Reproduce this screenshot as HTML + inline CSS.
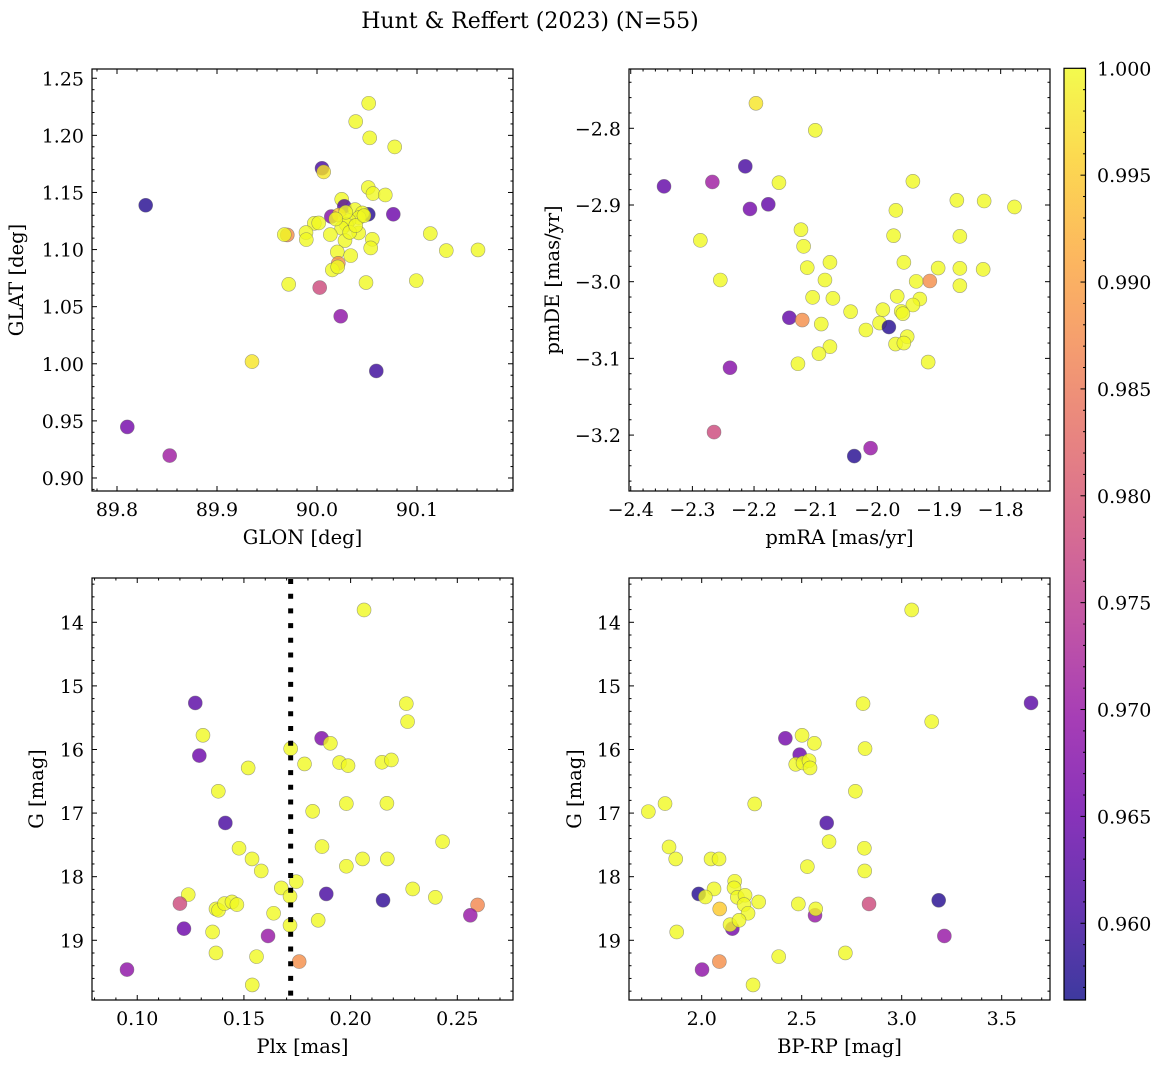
<!DOCTYPE html>
<html><head><meta charset="utf-8"><title>Hunt & Reffert (2023)</title>
<style>
html,body{margin:0;padding:0;background:#fff;}
svg{display:block;font-family:"DejaVu Serif","Liberation Serif",serif;}
</style></head>
<body>
<svg id="fig" width="1161" height="1068" viewBox="0 0 1161 1068" xmlns="http://www.w3.org/2000/svg">
<defs>
<linearGradient id="cbgrad" x1="0" y1="1" x2="0" y2="0"></linearGradient>
</defs>
<rect x="0" y="0" width="1161" height="1068" fill="#fff"/>
<text x="530" y="28" text-anchor="middle" font-size="22" fill="#000">Hunt &amp; Reffert (2023) (N=55)</text>
</svg>
<script>
// ---------------- data ----------------
const tlGlon = [90.0517,90.0387,90.0527,90.0777,90.0050,90.0067,90.0513,90.0560,90.0683,89.8287,90.0247,90.0273,90.0380,90.0763,90.0143,90.0220,90.0513,90.0453,90.0420,90.0320,89.9973,90.0017,90.0293,90.0247,89.9703,89.9673,89.9890,89.9893,90.0133,90.0417,90.0280,90.0553,90.0537,90.1133,90.1293,90.1610,90.0203,90.0337,90.0213,90.0153,90.0207,89.9717,90.0027,90.0490,90.0993,90.0237,89.9350,90.0593,89.8103,89.8527,90.0327,90.0387,90.0470,90.0287,90.0187];
const tlGlat = [1.2281,1.2121,1.1978,1.1899,1.1712,1.1680,1.1543,1.1490,1.1478,1.1388,1.1440,1.1379,1.1350,1.1309,1.1289,1.1303,1.1309,1.1321,1.1280,1.1254,1.1230,1.1233,1.1219,1.1187,1.1128,1.1131,1.1149,1.1087,1.1131,1.1146,1.1079,1.1090,1.1014,1.1140,1.0991,1.0997,1.0979,1.0947,1.0880,1.0822,1.0848,1.0696,1.0667,1.0711,1.0728,1.0416,1.0019,0.9937,0.9447,0.9196,1.1151,1.1210,1.1297,1.1327,1.1268];
const tlProb = [1,1,1,1,0.961,0.998,1,1,1,0.958,1,0.962,1,0.965,0.968,0.995,0.958,1,1,1,1,1,1,1,0.988,1,1,1,1,1,1,1,1,1,1,1,1,1,0.988,1,1,1,0.978,1,1,0.969,0.998,0.960,0.966,0.971,1,1,1,1,1];

const trPmra = [-2.1969,-2.1007,-2.2142,-2.3460,-2.2676,-2.1596,-2.2066,-2.1769,-1.9424,-1.8711,-1.8268,-1.7776,-1.9700,-2.2871,-2.1239,-2.1196,-1.9737,-1.8662,-2.2547,-2.1137,-2.0769,-2.0850,-1.9570,-1.9014,-1.8662,-1.8284,-1.9370,-1.9149,-1.8662,-2.1050,-2.0721,-1.9678,-1.9311,-1.9424,-2.0434,-1.9911,-1.9613,-1.9586,-2.1428,-2.1218,-2.0910,-1.9964,-1.9813,-2.0186,-1.9516,-1.9705,-1.9570,-2.0769,-2.0948,-2.1288,-1.9176,-2.2390,-2.2649,-2.0375,-2.0110];
const trPmde = [-2.7674,-2.8026,-2.8496,-2.8757,-2.8700,-2.8709,-2.9052,-2.8991,-2.8691,-2.8939,-2.8948,-2.9026,-2.9070,-2.9461,-2.9322,-2.9539,-2.9400,-2.9409,-2.9978,-2.9817,-2.9748,-2.9978,-2.9748,-2.9822,-2.9826,-2.9839,-2.9996,-2.9991,-3.0052,-3.0204,-3.0217,-3.0191,-3.0226,-3.0304,-3.0391,-3.0365,-3.0387,-3.0417,-3.0470,-3.0500,-3.0552,-3.0539,-3.0591,-3.0630,-3.0717,-3.0813,-3.0800,-3.0848,-3.0939,-3.1070,-3.1048,-3.1122,-3.1961,-3.2274,-3.2170];
const trProb = [0.998,1,0.961,0.964,0.971,1,0.966,0.964,1,1,1,1,1,1,1,1,1,1,1,1,1,1,1,1,1,1,1,0.988,1,1,1,1,1,1,1,1,1,1,0.964,0.988,1,1,0.958,1,1,1,1,1,1,1,1,0.968,0.978,0.958,0.970];

const blPlx = [0.2063,0.1272,0.2261,0.2267,0.1308,0.1864,0.1905,0.1291,0.1719,0.1520,0.1784,0.1948,0.1988,0.2147,0.2191,0.1380,0.1980,0.2170,0.1822,0.1413,0.2431,0.1477,0.1866,0.1538,0.2056,0.2172,0.1581,0.1980,0.1745,0.1675,0.1886,0.1716,0.1239,0.2291,0.2152,0.2397,0.1200,0.2595,0.2561,0.1369,0.1381,0.1409,0.1444,0.1467,0.1639,0.1848,0.1716,0.1219,0.1353,0.1613,0.1369,0.1559,0.1759,0.0952,0.1539];
const blG = [13.806,15.268,15.279,15.562,15.777,15.824,15.903,16.096,15.986,16.290,16.227,16.206,16.254,16.201,16.165,16.657,16.851,16.846,16.972,17.155,17.449,17.553,17.527,17.721,17.721,17.721,17.910,17.836,18.078,18.177,18.271,18.308,18.282,18.193,18.371,18.324,18.423,18.444,18.607,18.507,18.528,18.423,18.397,18.439,18.575,18.686,18.764,18.817,18.869,18.932,19.199,19.257,19.335,19.461,19.702];
const blProb = [1,0.963,1,1,1,0.967,1,0.965,1,1,1,1,1,1,1,1,1,1,1,0.961,1,1,1,1,1,1,1,1,1,1,0.961,1,1,1,0.959,1,0.978,0.987,0.970,1,1,1,1,1,1,1,1,0.965,1,0.970,1,1,0.988,0.969,1];

const brBprp = [3.0500,2.8067,3.6467,3.1500,2.4183,2.5017,2.5633,2.8167,2.4900,2.4700,2.5067,2.5367,2.5417,2.7683,1.7333,1.8167,2.2650,2.6250,2.6367,2.8133,1.8367,1.8700,2.0467,2.0867,2.5283,2.8150,2.1650,2.1617,2.0617,1.9850,2.0183,2.1783,2.2167,2.2117,2.2850,2.0900,2.2317,2.4833,2.5667,2.5700,2.8367,3.1850,2.1533,2.1417,2.1867,1.8750,3.2133,2.3850,2.7183,2.0017,2.0883,2.2567];
const brG = [13.806,15.279,15.268,15.562,15.824,15.777,15.903,15.986,16.081,16.233,16.212,16.175,16.290,16.657,16.977,16.851,16.856,17.155,17.449,17.553,17.533,17.721,17.721,17.721,17.842,17.910,18.072,18.177,18.193,18.271,18.319,18.324,18.292,18.439,18.397,18.507,18.575,18.429,18.607,18.507,18.429,18.371,18.817,18.754,18.686,18.869,18.932,19.257,19.199,19.461,19.335,19.702];
const brProb = [1,1,0.963,1,0.966,1,1,1,0.965,1,1,1,1,1,1,1,1,0.961,1,1,1,1,1,1,1,1,1,1,1,0.958,1,1,1,1,1,0.995,1,1,0.970,1,0.978,0.958,0.966,1,1,1,0.970,1,1,0.969,0.988,1];

const plxCut = [0.1719];
const cbTicks = [0.960,0.965,0.970,0.975,0.980,0.985,0.990,0.995,1.000];
const cbRange = [0.95641,1.0];

// ---------------- helpers ----------------
const NS = "http://www.w3.org/2000/svg";
const svg = document.getElementById('fig');
function mk(tag, attrs, parent){ const e=document.createElementNS(NS,tag); for(const k in attrs) e.setAttribute(k,attrs[k]); (parent||svg).appendChild(e); return e; }
const plasma = [[13,8,135],[65,4,157],[106,0,168],[143,13,164],[177,42,144],[204,71,120],[225,100,98],[242,132,75],[252,166,54],[252,206,37],[240,249,33]];
function plasmaAt(t){ t=Math.max(0,Math.min(1,t)); const f=t*10, i=Math.min(9,Math.floor(f)), r=f-i; const a=plasma[i], b=plasma[i+1]; return 'rgb('+a.map((v,k)=>Math.round(v+(b[k]-v)*r)).join(',')+')'; }
function probColor(p){ return plasmaAt((p-cbRange[0])/(cbRange[1]-cbRange[0])); }
function lin(d0,d1,r0,r1){ return v => r0 + (v-d0)/(d1-d0)*(r1-r0); }
function fmt(v,dec){ return (v<0?'\u2212':'') + Math.abs(v).toFixed(dec); }

function panel(cfg){
  const g = mk('g',{});
  
  
  const X = lin(cfg.xd[0],cfg.xd[1],cfg.px[0],cfg.px[1]);
  const Y = lin(cfg.yd[0],cfg.yd[1],cfg.py[1],cfg.py[0]);
  const [L,R]=cfg.px, [T,B]=cfg.py;
  const pg = mk('g',{},g);
  
  
  for(let i=0;i<cfg.xs.length;i++){
    const c = mk('circle',{cx:X(cfg.xs[i]).toFixed(2),cy:Y(cfg.ys[i]).toFixed(2),r:7,fill:probColor(cfg.ps[i]),'fill-opacity':0.8,stroke:'#666','stroke-opacity':0.6,'stroke-width':0.6},pg);
    
    
  }
  if(cfg.vline){
    const ln = mk('line',{x1:X(cfg.vline[0]),x2:X(cfg.vline[0]),y1:T+1,y2:B,stroke:'#000','stroke-width':5,'stroke-dasharray':'5 9.7'},g);
    
    
  }
  const tg = mk('g',{stroke:'#000','stroke-width':1},g);
  
  
  const eps=1e-9;
  function ticksAlong(d, step, minor, fn){
    const start=Math.ceil((d[0]-eps)/minor)*minor;
    for(let v=start; v<=d[1]+eps; v+=minor){
      const isMaj = Math.abs(v/step - Math.round(v/step))<1e-4;
      fn(v,isMaj);
    }
  }
  ticksAlong(cfg.xd, cfg.xstep, cfg.xminor, (v,maj)=>{
    const x=X(v), l=maj?5:2.5;
    mk('line',{x1:x,x2:x,y1:B,y2:B-l},tg); mk('line',{x1:x,x2:x,y1:T,y2:T+l},tg);
  });
  ticksAlong([Math.min(...cfg.yd),Math.max(...cfg.yd)], cfg.ystep, cfg.yminor, (v,maj)=>{
    const y=Y(v), l=maj?5:2.5;
    mk('line',{x1:L,x2:L+l,y1:y,y2:y},tg); mk('line',{x1:R,x2:R-l,y1:y,y2:y},tg);
  });
  const lg = mk('g',{'font-size':19,fill:'#000'},g);
  
  
  cfg.xticks.forEach(v=>{ const t=mk('text',{x:X(v),y:B+25,'text-anchor':'middle'},lg); t.textContent=fmt(v,cfg.xdec);
      });
  cfg.yticks.forEach(v=>{ const t=mk('text',{x:L-8,y:Y(v)+7,'text-anchor':'end'},lg); t.textContent=fmt(v,cfg.ydec);
      });
  const fr = mk('rect',{x:L,y:T,width:R-L,height:B-T,fill:'none',stroke:'#000','stroke-width':1.2},g);
  
  
  const xl = mk('text',{x:(L+R)/2,y:B+53,'text-anchor':'middle','font-size':19.5},g); xl.textContent=cfg.xlabel;
   
  const yl = mk('text',{x:0,y:0,'text-anchor':'middle','font-size':19.5,transform:'translate('+(cfg.ylx+6)+','+((T+B)/2)+') rotate(-90)'},g); yl.textContent=cfg.ylabel;
   
}

panel({name:'glon-glat-panel',px:[92,513],py:[69,491],xd:[89.775,90.196],yd:[0.8886,1.2581],xs:tlGlon,ys:tlGlat,ps:tlProb,
  xstep:0.1,xminor:0.02,ystep:0.05,yminor:0.01,xticks:[89.8,89.9,90.0,90.1],yticks:[0.90,0.95,1.00,1.05,1.10,1.15,1.20,1.25],xdec:1,ydec:2,
  xlabel:'GLON [deg]',ylabel:'GLAT [deg]',ylx:17});
panel({name:'pm-panel',px:[629,1050],py:[69,491],xd:[-2.4028,-1.720],yd:[-3.2729,-2.7227],xs:trPmra,ys:trPmde,ps:trProb,
  xstep:0.1,xminor:0.02,ystep:0.1,yminor:0.02,xticks:[-2.4,-2.3,-2.2,-2.1,-2.0,-1.9,-1.8],yticks:[-3.2,-3.1,-3.0,-2.9,-2.8],xdec:1,ydec:1,
  xlabel:'pmRA [mas/yr]',ylabel:'pmDE [mas/yr]',ylx:553});
panel({name:'plx-g-panel',px:[92,513],py:[578,1000],xd:[0.0788,0.2761],yd:[19.939,13.3035],xs:blPlx,ys:blG,ps:blProb,vline:plxCut,
  xstep:0.05,xminor:0.01,ystep:1,yminor:0.2,xticks:[0.10,0.15,0.20,0.25],yticks:[14,15,16,17,18,19],xdec:2,ydec:0,
  xlabel:'Plx [mas]',ylabel:'G [mag]',ylx:37});
panel({name:'cmd-panel',px:[629,1050],py:[578,1000],xd:[1.6365,3.7415],yd:[19.939,13.3035],xs:brBprp,ys:brG,ps:brProb,
  xstep:0.5,xminor:0.1,ystep:1,yminor:0.2,xticks:[2.0,2.5,3.0,3.5],yticks:[14,15,16,17,18,19],xdec:1,ydec:0,
  xlabel:'BP-RP [mag]',ylabel:'G [mag]',ylx:575});

// ---------------- colorbar ----------------
const grad = document.getElementById('cbgrad');
for(let i=0;i<=10;i++){ mk('stop',{offset:(i/10),'stop-color':plasmaAt(i/10),'stop-opacity':0.8},grad); }
const cb = mk('g',{});


const cbL=1064, cbR=1085.5, cbT=68.3, cbB=1000;
const CY = lin(cbRange[0],cbRange[1],cbB,cbT);
mk('rect',{x:cbL,y:cbT,width:cbR-cbL,height:cbB-cbT,fill:'url(#cbgrad)'},cb);
const cbt = mk('g',{stroke:'#000','stroke-width':1},cb);
for(let k=Math.ceil(cbRange[0]*1000); k<=1000; k++){
  const v=k/1000, y=CY(v), maj=(k%5===0);
  mk('line',{x1:cbR,x2:cbR-(maj?5:2.5),y1:y,y2:y},cbt);
}
cbTicks.forEach(v=>{ const t=mk('text',{x:1097,y:CY(v)+7,'font-size':19},cb); t.textContent=v.toFixed(3);
    });
mk('rect',{x:cbL,y:cbT,width:cbR-cbL,height:cbB-cbT,fill:'none',stroke:'#000','stroke-width':1.2},cb);
</script>
</body></html>
